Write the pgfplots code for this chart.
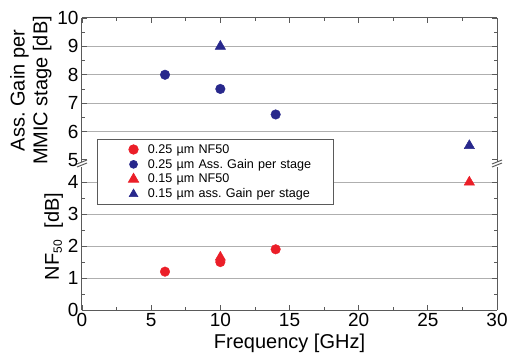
\documentclass[border=0pt]{standalone}
\usepackage{pgfplots}
\pgfplotsset{compat=1.18}
\usepackage{fontspec}
\setmainfont{Liberation Sans}
\frenchspacing
\definecolor{myred}{RGB}{235,30,40}
\definecolor{myblue}{RGB}{40,40,140}
\definecolor{axgray}{RGB}{90,90,90}
\definecolor{gridgray}{RGB}{175,175,175}
\pgfplotsset{
  common/.style={
    scale only axis, width=415pt, xmin=0, xmax=30,
    xtick={0,5,...,30}, minor x tick num=1, minor y tick num=1,
    tick align=inside,
    major tick length=5pt, minor tick length=3pt,
    every tick/.style={axgray, line width=0.8pt},
    axis line style={axgray, line width=1pt},
    ymajorgrids, grid style={gridgray, line width=1pt},
    tick label style={font=\fontsize{19}{19}\selectfont},
    label style={font=\fontsize{20}{22}\selectfont},
    /pgf/number format/assume math mode=true,
  },
}
\begin{document}
\begin{tikzpicture}
\path[use as bounding box] (-82pt,-49pt) rectangle (426pt,310pt);
\begin{axis}[common, name=upper, at={(0,147pt)}, anchor=south west,
  height=145pt, ymin=4.89, ymax=10,
  axis x line*=top, axis y line*=box, xticklabels={},
  ytick={6,7,8,9,10}, extra y ticks={5}, extra tick style={grid=none},
  ylabel={\shortstack{Ass. Gain per\\[1pt]MMIC stage [dB]}},
  ylabel style={yshift=-1pt},
  clip=false]
\addplot[only marks, mark=*, mark size=4.8pt, color=myblue] coordinates {(6,8.0) (10,7.5) (14,6.6)};
\addplot[only marks, mark=triangle*, mark size=6pt, color=myblue] coordinates {(10,9.0) (28,5.5)};
\end{axis}
\begin{axis}[common, name=lower, at={(0,0)}, anchor=south west,
  height=147pt, ymin=0, ymax=4.6,
  axis x line*=bottom, axis y line*=box,
  ytick={0,1,2,3,4},
  xlabel={Frequency [GHz]},
  ylabel={NF\textsubscript{\fontsize{12}{12}\selectfont 50}\ \ [dB]},
  ylabel style={yshift=-2pt},
  legend style={at={(0.036,1.163)}, anchor=north west, draw=axgray, line width=0.6pt,
    font=\fontsize{12.6}{14}\selectfont, fill=white, inner xsep=2pt, inner ysep=3pt,
    row sep=0.4pt, text width=181pt},
  legend cell align=left,
  legend image code/.code={\path (0pt,0pt) (46pt,0pt); \draw[#1] plot coordinates {(34pt,0pt)};},
  clip=false]
\addplot[only marks, mark=*, mark size=4.8pt, color=myred] coordinates {(6,1.2) (10,1.5) (14,1.9)};
\addlegendentry{0.25 µm NF50}
\addlegendimage{only marks, mark=*, mark size=4pt, color=myblue}
\addlegendentry{0.25 µm Ass. Gain per stage}
\addplot[only marks, mark=triangle*, mark size=6pt, color=myred] coordinates {(10,1.65) (28,4.0)};
\addlegendentry{0.15 µm NF50}
\addlegendimage{only marks, mark=triangle*, mark size=5pt, color=myblue}
\addlegendentry{0.15 µm ass. Gain per stage}
\end{axis}
\foreach \p in {upper.south west, upper.south east}{
  \fill[white] ([xshift=-5pt,yshift=-4pt]\p) rectangle ([xshift=5pt,yshift=1pt]\p);
  \draw[axgray, line width=1pt] ([xshift=-5pt,yshift=-4pt]\p) -- ([xshift=5pt,yshift=0pt]\p);
  \draw[axgray, line width=1pt] ([xshift=-5pt,yshift=-1pt]\p) -- ([xshift=5pt,yshift=3pt]\p);
}
\end{tikzpicture}
\end{document}
